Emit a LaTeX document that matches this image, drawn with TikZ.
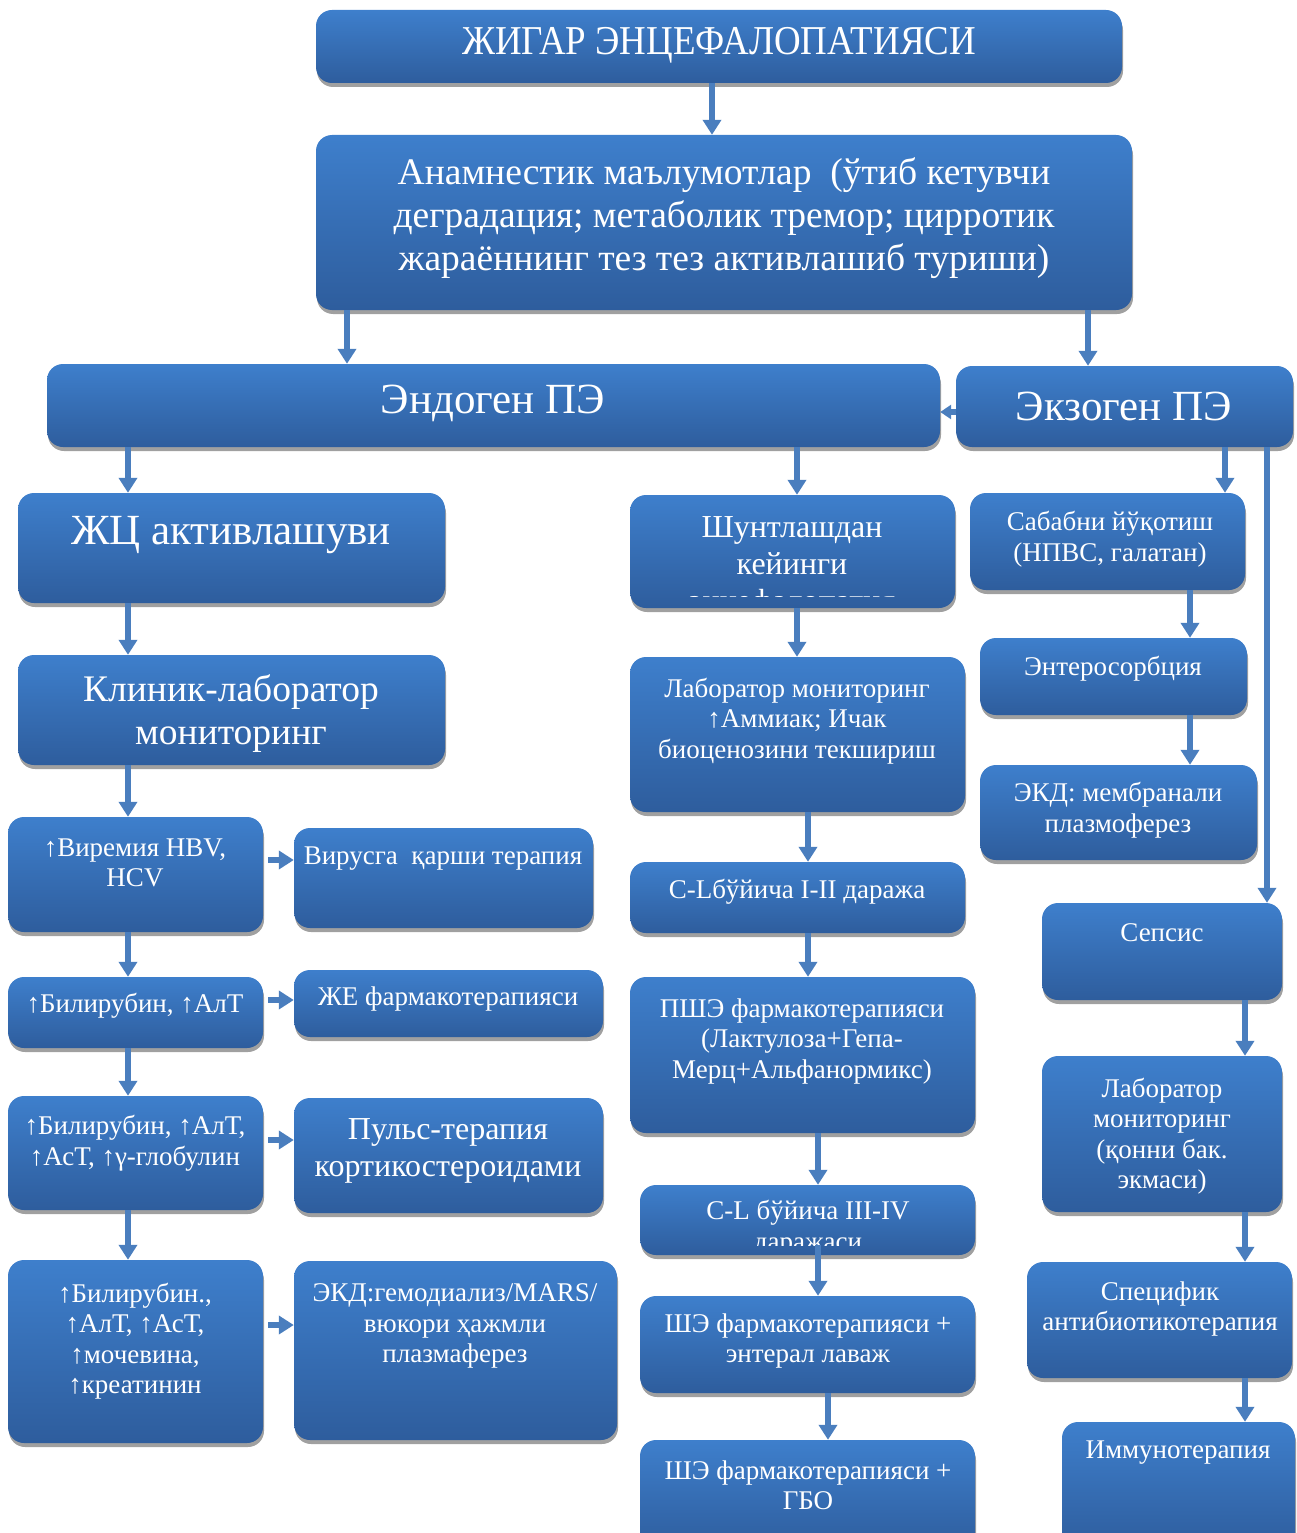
\documentclass[tikz,border=0pt]{standalone}
\usepackage{fontspec}
\setmainfont{Liberation Serif}
\newfontfamily\narrowserif{Liberation Serif}[FakeStretch=0.9]
\usepackage{tikz}
\usetikzlibrary{positioning,arrows.meta,fit,shadows}
\definecolor{boxtop}{RGB}{62,127,204}
\definecolor{boxbot}{RGB}{46,93,157}
\definecolor{linkblue}{RGB}{74,126,190}
\definecolor{shadowgray}{RGB}{160,160,160}
\tikzset{
  box/.style={rounded corners=16pt,inner sep=0pt,top color=boxtop,bottom color=boxbot,
    drop shadow={shadow xshift=1pt,shadow yshift=-4pt,fill=shadowgray,opacity=1}},
  txt/.style={text=white,align=center,inner sep=0pt,yshift=-3pt},
  txtXL/.style={txt,font=\fontsize{43}{48}\selectfont},
  txtL/.style={txt,font=\fontsize{37.5}{43}\selectfont},
  txtM/.style={txt,font=\fontsize{32}{37}\selectfont},
  txtS/.style={txt,font=\fontsize{27}{30.5}\selectfont},
  conn/.style={-{Triangle[length=15pt,width=18pt]},line width=6pt,draw=linkblue},
}
\begin{document}
\begin{tikzpicture}[x=1pt,y=-1pt]
  \useasboundingbox (0,0) rectangle (1296,1533);
  % top
  \node[box,fit={(316,10) (1122,83)}] (title) {};
  \node[txt,font=\fontsize{41}{46}\narrowserif] (titletxt) at (719,42) {ЖИГАР ЭНЦЕФАЛОПАТИЯСИ};
  \node[box,fit={(316,135) (1132,310)}] (anam) {};
  \node[txtL] (anamtxt) at (724,215) {Анамнестик маълумотлар\ \ (ўтиб кетувчи\\деградация; метаболик тремор; цирротик\\жараённинг тез тез активлашиб туриши)};
  \node[box,fit={(47,364) (940,447)}] (endo) {};
  \node[txtXL] (endotxt) at (493,400) {Эндоген ПЭ};
  \node[box,fit={(956,366) (1293,447)}] (exo) {};
  \node[txtXL] (exotxt) at (1124,403) {Экзоген ПЭ};
  % left column
  \node[box,fit={(18,493) (445,603)}] (zhts) {};
  \node[txtXL] (zhtstxt) at (231,532) {ЖЦ активлашуви};
  \node[box,fit={(18,655) (445,765)}] (klin) {};
  \node[txtL] (klintxt) at (231,711) {Клиник-лаборатор\\мониторинг};
  \node[box,fit={(8,817) (263,932)}] (vir) {};
  \node[txtS] (virtxt) at (135,860) {↑Виремия HBV,\\HCV};
  \node[box,fit={(294,828) (593,928)}] (virt) {};
  \node[txtS] (virttxt) at (443,856) {Вирусга\ \ қарши терапия};
  \node[box,fit={(8,977) (263,1048)}] (bil1) {};
  \node[txtS] (bil1txt) at (135,1003) {↑Билирубин, ↑АлТ};
  \node[box,fit={(294,970) (603,1037)}] (zhe) {};
  \node[txtS] (zhetxt) at (448,996) {ЖЕ фармакотерапияси};
  \node[box,fit={(8,1096) (263,1210)}] (bil2) {};
  \node[txtS] (bil2txt) at (135,1140) {↑Билирубин, ↑АлТ,\\↑АсТ, ↑γ-глобулин};
  \node[box,fit={(294,1098) (603,1213)}] (puls) {};
  \node[txtM] (pulstxt) at (448,1148) {Пульс-терапия\\кортикостероидами};
  \node[box,fit={(8,1260) (263,1443)}] (bil3) {};
  \node[txtS] (bil3txt) at (135,1338) {↑Билирубин.,\\↑АлТ, ↑АсТ,\\↑мочевина,\\↑креатинин};
  \node[box,fit={(294,1261) (617,1440)}] (ekd1) {};
  \node[txtS] (ekd1txt) at (455,1323) {ЭКД:гемодиализ/MARS/\\вюкори ҳажмли\\плазмаферез};
  % middle column
  \node[box,fit={(630,495) (955,608)}] (shunt) {};
  \begin{scope}
    \clip (630,495) rectangle (955,596);
    \node[txtM] (shunttxt) at (792,564) {Шунтлашдан\\кейинги\\энцефалопатия};
  \end{scope}
  \node[box,fit={(630,657) (965,812)}] (lab1) {};
  \node[txtS] (lab1txt) at (797,718) {Лаборатор мониторинг\\↑Аммиак; Ичак\\биоценозини текшириш};
  \node[box,fit={(630,862) (965,933)}] (cl12) {};
  \node[txtS] (cl12txt) at (797,889) {С-Lбўйича I-II даража};
  \node[box,fit={(630,977) (975,1133)}] (pshe) {};
  \node[txtS] (pshetxt) at (802,1038) {ПШЭ фармакотерапияси\\(Лактулоза+Гепа-\\Мерц+Альфанормикс)};
  \node[box,fit={(640,1185) (975,1255)}] (cl34) {};
  \begin{scope}
    \clip (640,1185) rectangle (975,1245);
    \node[txtS] (cl34txt) at (808,1225) {С-L бўйича III-IV\\даражаси};
  \end{scope}
  \node[box,fit={(640,1296) (975,1393)}] (she1) {};
  \node[txtS] (she1txt) at (808,1338) {ШЭ фармакотерапияси +\\энтерал лаваж};
  \node[box,fit={(640,1440) (975,1550)}] (she2) {};
  \node[txtS] (she2txt) at (808,1482) {ШЭ фармакотерапияси +\\ГБО};
  % right column
  \node[box,fit={(970,493) (1245,590)}] (sab) {};
  \node[txtS] (sabtxt) at (1110,536) {Сабабни йўқотиш\\(НПВС, галатан)};
  \node[box,fit={(980,638) (1247,715)}] (entero) {};
  \node[txtS] (enterotxt) at (1113,666) {Энтеросорбция};
  \node[box,fit={(980,765) (1257,860)}] (ekd2) {};
  \node[txtS] (ekd2txt) at (1118,807) {ЭКД: мембранали\\плазмоферез};
  \node[box,fit={(1042,903) (1282,1000)}] (seps) {};
  \node[txtS] (sepstxt) at (1162,930) {Сепсис};
  \node[box,fit={(1042,1056) (1282,1212)}] (lab2) {};
  \node[txtS] (lab2txt) at (1162,1133) {Лаборатор\\мониторинг\\(қонни бак.\\экмаси)};
  \node[box,fit={(1027,1262) (1292,1378)}] (spec) {};
  \node[txtS] (spectxt) at (1160,1306) {Специфик\\антибиотикотерапия};
  \node[box,fit={(1062,1422) (1295,1550)}] (immun) {};
  \node[txtS] (immuntxt) at (1178,1450) {Иммунотерапия};
  % connectors
  \draw[conn] (title.south -| 712,0) -- (anam.north -| 712,0);
  \draw[conn] (anam.south -| 347,0) -- (endo.north -| 347,0);
  \draw[conn] (anam.south -| 1088,0) -- (exo.north -| 1088,0);
  \draw[conn,-{Triangle[length=11pt,width=14pt]}] (exo.west |- 0,412) -- (endo.east |- 0,412);
  \draw[conn] (endo.south -| 128,0) -- (zhts.north -| 128,0);
  \draw[conn] (zhts.south -| 128,0) -- (klin.north -| 128,0);
  \draw[conn] (klin.south -| 128,0) -- (vir.north -| 128,0);
  \draw[conn] (vir.south -| 128,0) -- (bil1.north -| 128,0);
  \draw[conn] (bil1.south -| 128,0) -- (bil2.north -| 128,0);
  \draw[conn] (bil2.south -| 128,0) -- (bil3.north -| 128,0);
  \draw[conn,shorten <=5pt] (vir.east |- 0,860) -- (virt.west |- 0,860);
  \draw[conn,shorten <=5pt] (bil1.east |- 0,1000) -- (zhe.west |- 0,1000);
  \draw[conn,shorten <=5pt] (bil2.east |- 0,1140) -- (puls.west |- 0,1140);
  \draw[conn,shorten <=5pt] (bil3.east |- 0,1325) -- (ekd1.west |- 0,1325);
  \draw[conn] (endo.south -| 797,0) -- (shunt.north -| 797,0);
  \draw[conn] (shunt.south -| 797,0) -- (lab1.north -| 797,0);
  \draw[conn] (lab1.south -| 808,0) -- (cl12.north -| 808,0);
  \draw[conn] (cl12.south -| 808,0) -- (pshe.north -| 808,0);
  \draw[conn] (pshe.south -| 818,0) -- (cl34.north -| 818,0);
  \draw[conn,shorten <=-10pt] (cl34.south -| 818,0) -- (she1.north -| 818,0);
  \draw[conn] (she1.south -| 828,0) -- (she2.north -| 828,0);
  \draw[conn] (exo.south -| 1225,0) -- (sab.north -| 1225,0);
  \draw[conn] (sab.south -| 1190,0) -- (entero.north -| 1190,0);
  \draw[conn] (entero.south -| 1190,0) -- (ekd2.north -| 1190,0);
  \draw[conn] (exo.south -| 1267,0) -- (seps.north -| 1267,0);
  \draw[conn] (seps.south -| 1245,0) -- (lab2.north -| 1245,0);
  \draw[conn] (lab2.south -| 1245,0) -- (spec.north -| 1245,0);
  \draw[conn] (spec.south -| 1245,0) -- (immun.north -| 1245,0);
\end{tikzpicture}
\end{document}
